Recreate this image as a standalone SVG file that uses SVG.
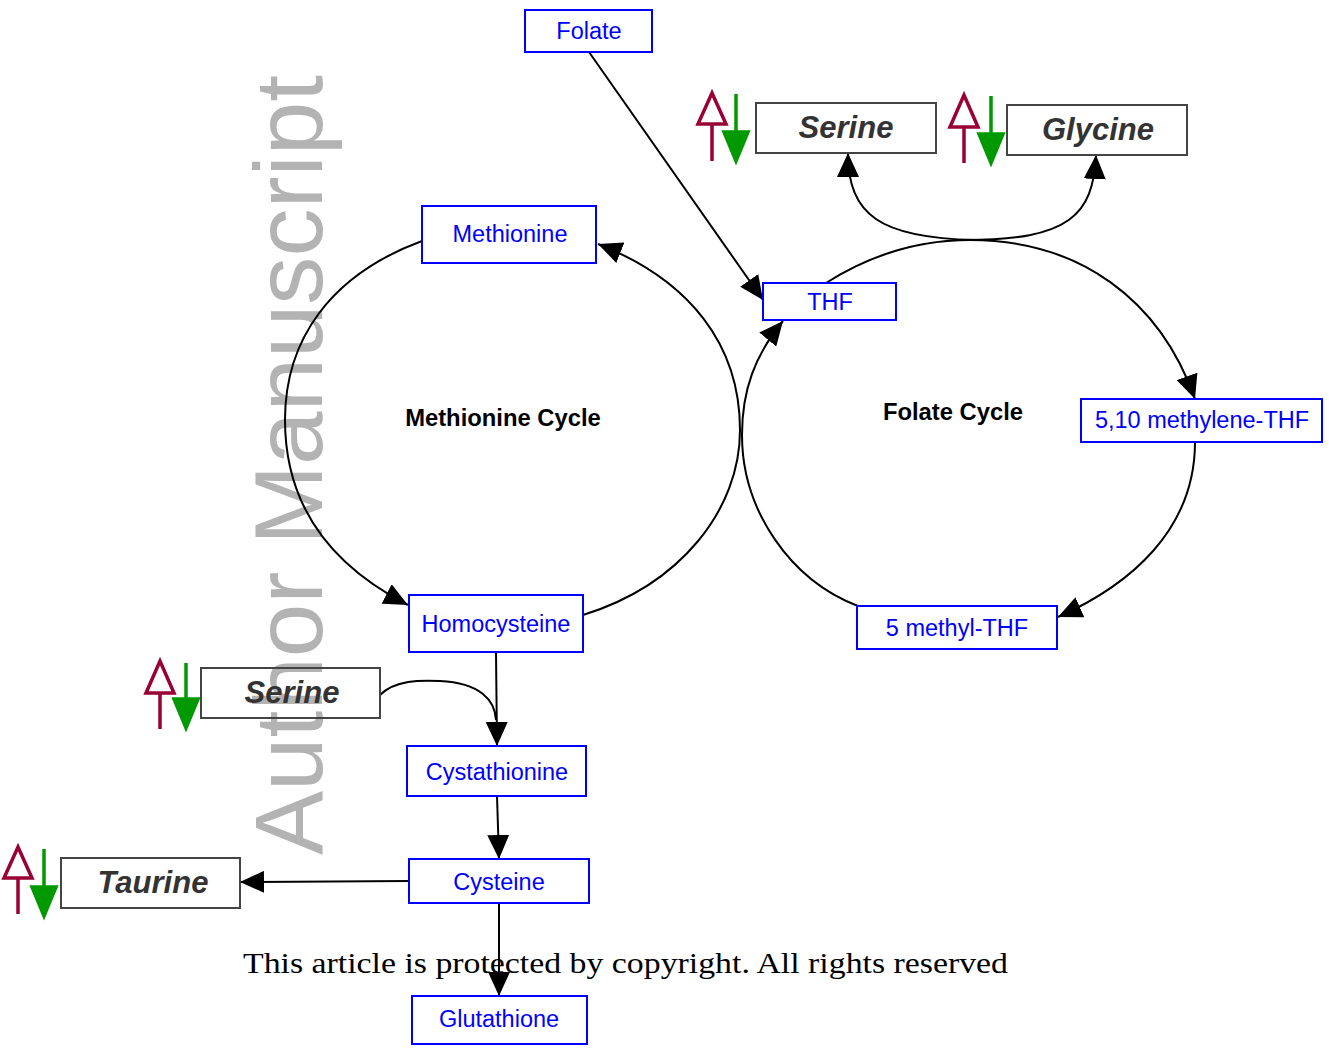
<svg xmlns="http://www.w3.org/2000/svg" width="1329" height="1051" viewBox="0 0 1329 1051">
<style>
.bn{fill:#fff;stroke:#0000ff;stroke-width:2}
.bt{font-family:"Liberation Sans",Arial,sans-serif;font-size:23.5px;fill:#0000ff;text-anchor:middle}
.gn{fill:none;stroke:#444;stroke-width:2}
.gt{font-family:"Liberation Sans",Arial,sans-serif;font-size:31px;font-weight:bold;font-style:italic;fill:#333;text-anchor:middle}
.cl{font-family:"Liberation Sans",Arial,sans-serif;font-size:23.8px;font-weight:bold;fill:#000;text-anchor:middle}
.c{fill:none;stroke:#000;stroke-width:2;marker-end:url(#ah)}
.cn{fill:none;stroke:#000;stroke-width:2}
.up{fill:none;stroke:#990033;stroke-width:3.5}
.dn{stroke:#009900;stroke-width:3.5;fill:#009900}
</style>
<defs>
<marker id="ah" markerUnits="userSpaceOnUse" markerWidth="24" markerHeight="22" viewBox="0 0 24 22" refX="24" refY="11" orient="auto">
<path d="M0,0 L24,11 L0,22 z" fill="#000"/>
</marker>
</defs>
<rect width="1329" height="1051" fill="#fff"/>
<text transform="translate(322,855) rotate(-90)" font-family="Liberation Sans,Arial,sans-serif" font-size="96" fill="#b3b3b3" textLength="780" lengthAdjust="spacingAndGlyphs">Author Manuscript</text>

<g id="connectors">
<path class="c" d="M422,241 C330,275 285,340 285,420 C285,505 330,565 408,605"/>
<path class="c" d="M583,615 C680,585 740,510 740,430 C740,345 690,280 598,244"/>
<path class="c" d="M826,283 C870,255 920,240 970,240 C1080,240 1160,300 1195,399"/>
<path class="c" d="M1195,442 C1195,530 1130,585 1058,617"/>
<path class="c" d="M858,606 C790,580 742,510 742,435 C742,390 755,355 783,321"/>
<path class="c" d="M975,240 C880,238 848,215 848,153"/>
<path class="c" d="M965,240 C1070,240 1093,215 1096,155"/>
<path class="c" d="M589,52 L763,300"/>
<path class="c" d="M496,652 L497,746"/>
<path class="cn" d="M380,695 C395,680 420,680 440,681 C480,683 495,700 496,720"/>
<path class="c" d="M497,796 L499,859"/>
<path class="c" d="M409,881 L240,882"/>
<path class="c" d="M499,903 L499,996"/>
</g>

<g id="folate"><rect class="bn" x="525" y="10" width="127" height="42"/><text class="bt" x="589" y="39">Folate</text></g>
<g id="methionine"><rect class="bn" x="422" y="206" width="174" height="57"/><text class="bt" x="510" y="242">Methionine</text></g>
<g id="thf"><rect class="bn" x="763" y="283" width="133" height="37"/><text class="bt" x="830" y="310">THF</text></g>
<g id="methylene-thf"><rect class="bn" x="1081" y="399" width="241" height="43"/><text class="bt" x="1202" y="428">5,10 methylene-THF</text></g>
<g id="homocysteine"><rect class="bn" x="409" y="595" width="174" height="57"/><text class="bt" x="496" y="632">Homocysteine</text></g>
<g id="methyl-thf"><rect class="bn" x="857" y="606" width="200" height="43"/><text class="bt" x="957" y="636">5 methyl-THF</text></g>
<g id="cystathionine"><rect class="bn" x="407" y="746" width="179" height="50"/><text class="bt" x="497" y="780">Cystathionine</text></g>
<g id="cysteine"><rect class="bn" x="409" y="859" width="180" height="44"/><text class="bt" x="499" y="890">Cysteine</text></g>
<g id="glutathione"><rect class="bn" x="412" y="996" width="175" height="48"/><text class="bt" x="499" y="1027">Glutathione</text></g>

<g id="label-methionine-cycle"><text class="cl" x="503" y="426">Methionine Cycle</text></g>
<g id="label-folate-cycle"><text class="cl" x="953" y="420">Folate Cycle</text></g>

<g id="serine-top">
<rect class="gn" x="756" y="103" width="180" height="50"/><text class="gt" x="846" y="138">Serine</text>
<path class="up" d="M712,161 L712,124 M698,124 L726,124 L712,93 z"/>
<path class="dn" d="M736,94 L736,132"/><path class="dn" d="M724,132 L748,132 L736,161 z" stroke-width="1"/>
</g>
<g id="glycine">
<rect class="gn" x="1007" y="105" width="180" height="50"/><text class="gt" x="1098" y="140">Glycine</text>
<path class="up" d="M964,163 L964,127 M950,127 L978,127 L964,95 z"/>
<path class="dn" d="M991,96 L991,134"/><path class="dn" d="M979,134 L1003,134 L991,163 z" stroke-width="1"/>
</g>
<g id="serine-bottom">
<rect class="gn" x="201" y="668" width="179" height="50"/><text class="gt" x="292" y="703">Serine</text>
<path class="up" d="M160,729 L160,693 M146,693 L174,693 L160,661 z"/>
<path class="dn" d="M186,663 L186,700"/><path class="dn" d="M174,699 L198,699 L186,728 z" stroke-width="1"/>
</g>
<g id="taurine">
<rect class="gn" x="61" y="858" width="179" height="50"/><text class="gt" x="153" y="893">Taurine</text>
<path class="up" d="M18,914 L18,878 M4,878 L32,878 L18,847 z"/>
<path class="dn" d="M44,849 L44,888"/><path class="dn" d="M32,887 L56,887 L44,916 z" stroke-width="1"/>
</g>

<text x="243" y="973" font-family="Liberation Serif,Times New Roman,serif" font-size="30" fill="#000" textLength="765" lengthAdjust="spacingAndGlyphs">This article is protected by copyright. All rights reserved</text>
</svg>
